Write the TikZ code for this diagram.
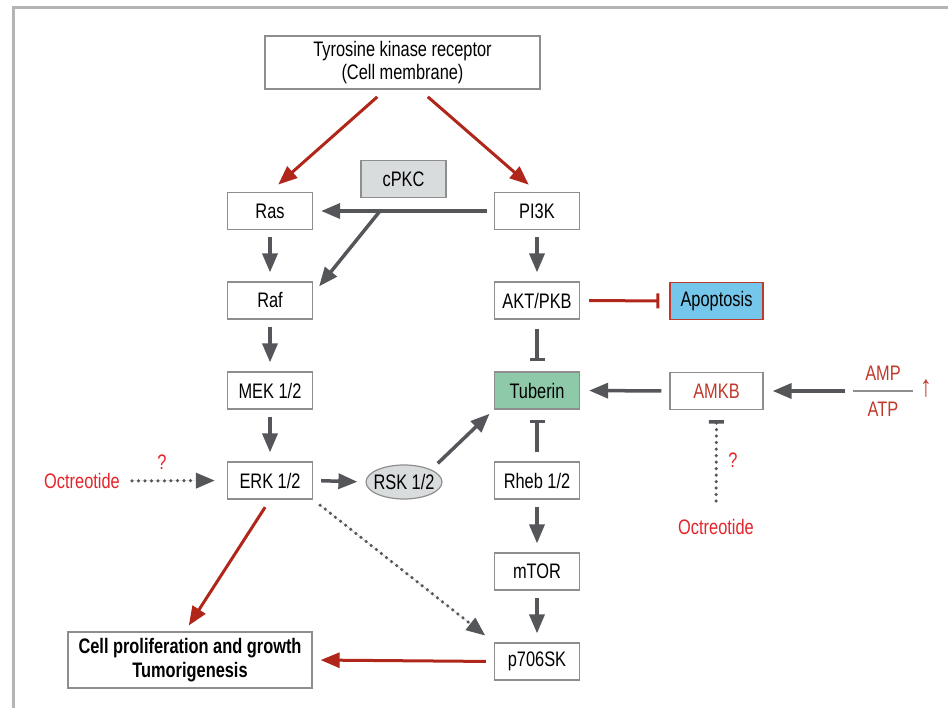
\documentclass[tikz,border=0pt]{standalone}
\usepackage{fontspec}
\setmainfont{Liberation Sans}[FakeStretch=0.78]
\usetikzlibrary{arrows.meta,shapes.geometric}
\definecolor{framegray}{HTML}{B4B4B6}
\definecolor{boxgray}{HTML}{8E8E8E}
\definecolor{arrgray}{HTML}{55565A}
\definecolor{darkred}{HTML}{B0261A}
\definecolor{brightred}{HTML}{E5232A}
\definecolor{textred}{HTML}{C0392B}
\definecolor{pkcfill}{HTML}{D9DCDD}
\definecolor{apofill}{HTML}{74C6EA}
\definecolor{tubfill}{HTML}{8ECAAA}
\tikzset{
  box/.style={draw=boxgray,line width=1.2pt,fill=white,minimum width=85pt,minimum height=37pt,inner sep=0pt},
  act/.style={draw=arrgray,line width=3.5pt,-{Triangle[length=19pt,width=15pt]},shorten <=7pt,shorten >=9pt},
  redact/.style={act,draw=darkred,fill=darkred,line width=3pt},
  blunt/.style={draw=arrgray,line width=3.5pt,-{Bar[width=15pt,line width=3.5pt]},shorten <=9pt,shorten >=10pt},
  dots/.style={draw=arrgray,line width=3.5pt,line cap=round,dash pattern=on 0pt off 6.5pt},
  note/.style={text=brightred,inner sep=0pt}
}
\begin{document}
\begin{tikzpicture}[x=1pt,y=-1pt,font=\fontsize{21}{25}\selectfont]
\useasboundingbox (0,0) rectangle (948,708);
\draw[framegray,line width=3pt] (13,708) -- (13,8) -- (948,8);
\node[box,minimum width=275pt,minimum height=53pt,align=center,font=\fontsize{21}{23}\selectfont] (tkr) at (402.5,62.5) {Tyrosine kinase receptor\\(Cell membrane)};
\node[box,fill=pkcfill] (cpkc) at (403.5,179) {cPKC};
\node[box] (ras) at (270,211) {Ras};
\node[box] (raf) at (270,300.5) {Raf};
\node[box] (mek) at (270,390.5) {MEK 1/2};
\node[box] (erk) at (270,480.5) {ERK 1/2};
\node[box] (pi3k) at (537,211) {PI3K};
\node[box] (akt) at (537,300.5) {AKT/PKB};
\node[box,fill=tubfill] (tub) at (537,390.5) {Tuberin};
\node[box] (rheb) at (537,480.5) {Rheb 1/2};
\node[box] (mtor) at (537,571.5) {mTOR};
\node[box] (p70) at (537,661.5) {p706SK};
\node[box,draw=textred,fill=apofill,minimum width=93pt] (apop) at (716.5,301) {Apoptosis};
\node[box,minimum width=93pt,text=textred] (amkb) at (716.5,391) {AMKB};
\node[ellipse,draw=boxgray,line width=1.2pt,fill=pkcfill,minimum width=76pt,minimum height=34pt,inner xsep=-6pt,inner ysep=0pt] (rsk) at (404,482) {RSK 1/2};
\node[box,minimum width=244pt,minimum height=56pt,align=center,font=\fontsize{21}{24}\selectfont\bfseries] (cell) at (190,660) {Cell proliferation and growth\\Tumorigenesis};
\node[note] (oct1) at (82,481) {Octreotide};
\node[note] (q1) at (162,462) {?};
\node[note] (oct2) at (716,527) {Octreotide};
\node[note] (q2) at (733,460) {?};
\node[text=textred,inner sep=0pt] (amp) at (883,373) {AMP};
\node[text=textred,inner sep=0pt] (atp) at (883,409) {ATP};
\node[text=textred,inner sep=0pt,font=\fontsize{30}{30}\selectfont] (up) at (926,389) {↑};
\draw[boxgray,line width=1.5pt] (853,391) -- (913,391);
\coordinate (ratio) at (853,391);
\coordinate (fork) at (380,211);
\draw[redact,shorten <=11pt,shorten >=11pt] ([xshift=-17pt]tkr.south) -- (ras.north);
\draw[redact,shorten <=11pt,shorten >=11pt] ([xshift=17pt]tkr.south) -- (pi3k.north);
\draw[act,shorten >=8pt] (pi3k.west) -- (ras.east);
\draw[act,shorten <=0pt,shorten >=0pt] (fork) -- ([xshift=6pt,yshift=-5pt]raf.north east);
\foreach \a/\b in {ras/raf,raf/mek,mek/erk,pi3k/akt,rheb/mtor,mtor/p70}
  \draw[act] (\a.south) -- (\b.north);
\draw[blunt] (akt.south) -- (tub.north);
\draw[blunt] (rheb.north) -- (tub.south);
\draw[blunt,draw=darkred,line width=3pt,-{Bar[width=15pt,line width=3pt]}] (akt.east) -- (apop.west);
\draw[act,shorten <=8pt] (amkb.west) -- (tub.east);
\draw[act,shorten <=8pt,shorten >=9pt] (ratio) -- (amkb.east);
\draw[act,shorten <=8pt,shorten >=8pt] (erk.east) -- (rsk.west);
\draw[act,shorten <=9pt,shorten >=6pt] (rsk.north east) -- (tub.south west);
\draw[redact,shorten <=9pt,shorten >=7pt] (erk.south) -- ([xshift=-5pt]cell.north);
\draw[redact,shorten <=8pt,shorten >=8pt] (p70.west) -- (cell.east);
\draw[dots,fill=arrgray,-{Triangle[length=19pt,width=15pt]},shorten <=12pt,shorten >=12pt] (oct1.east) -- (erk.west);
\draw[dots,fill=arrgray,-{Triangle[length=19pt,width=15pt]},shorten <=9pt,shorten >=11pt] (erk.south east) -- (p70.north west);
\draw[dots,-{Bar[width=15pt,line width=3.5pt]},shorten <=18pt,shorten >=10pt] (oct2.north) -- (amkb.south);
\end{tikzpicture}
\end{document}
